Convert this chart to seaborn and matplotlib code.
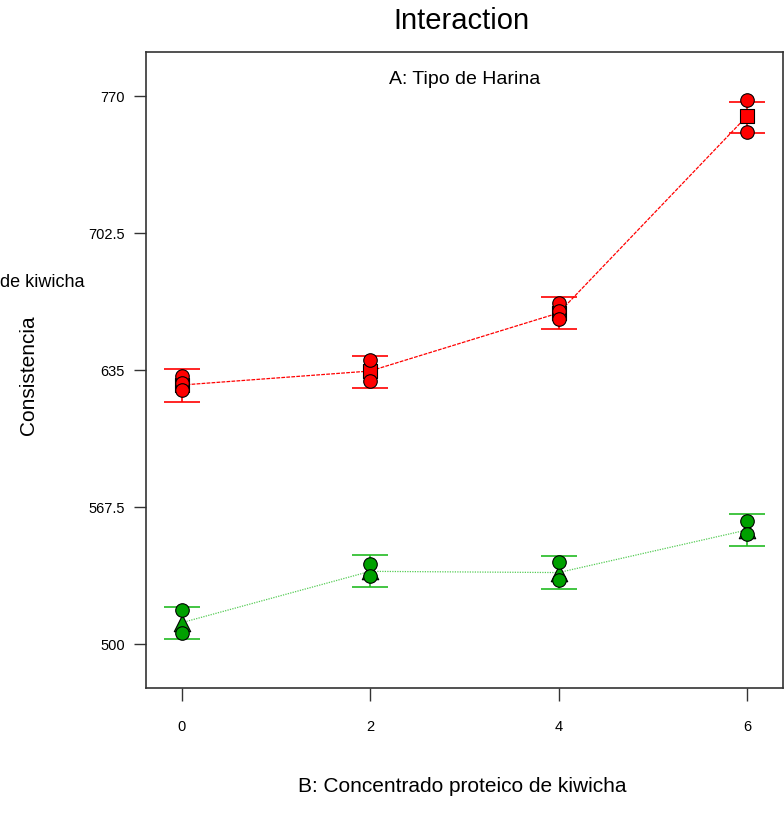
import numpy as np
import pandas as pd
import matplotlib
matplotlib.use("Agg")
import matplotlib.pyplot as plt
import seaborn as sb

# B levels and observed points for each A level
b_levels = [0, 2, 4, 6]
red_obs_x = [0, 0, 0, 2, 2, 4, 4, 4, 6, 6]
red_obs_y = [632.0, 628.5, 625.0, 640.0, 629.6, 668.0, 664.0, 660.1, 768.0, 752.3]
red_mean = [627.6, 634.5, 663.1, 760.1]
red_lo = [619.3, 626.2, 655.2, 751.8]
red_hi = [635.5, 641.9, 671.0, 767.0]

green_obs_x = [0, 0, 2, 2, 4, 4, 6, 6]
green_obs_y = [516.7, 505.4, 539.5, 533.5, 540.4, 531.5, 560.6, 554.2]
green_mean = [510.5, 535.8, 535.2, 556.2]
green_lo = [502.5, 528.0, 527.0, 548.5]
green_hi = [518.2, 544.0, 543.5, 564.0]

red = "#ff0000"
green = "#00a000"

sb.set_style("white")
plt.rcParams['font.family'] = ['Liberation Sans', 'DejaVu Sans']
plt.rcParams['text.color'] = 'black'
plt.rcParams['xtick.color'] = 'black'
plt.rcParams['ytick.color'] = 'black'

fig = plt.figure(figsize=(7.84, 8.25), dpi=100)
ax = fig.add_axes([0.186, 0.166, 0.8125, 0.771])

mean_df = pd.DataFrame({'B': b_levels * 2,
                        'y': red_mean + green_mean,
                        'A': ['a1'] * 4 + ['a2'] * 4})
sb.lineplot(data=mean_df[mean_df.A == 'a1'], x='B', y='y', color=red, lw=0.9,
            linestyle=(0, (3, 1)), ax=ax)
sb.lineplot(data=mean_df[mean_df.A == 'a2'], x='B', y='y', color="#55cc55", lw=0.9,
            linestyle=(0, (1, 1)), ax=ax)

# LSD bars
for m, lo, hi, c in [(red_mean, red_lo, red_hi, red), (green_mean, green_lo, green_hi, "#22bb22")]:
    m = np.array(m)
    ax.errorbar(b_levels, m, yerr=[m - np.array(lo), np.array(hi) - m], fmt='none',
                ecolor=c, elinewidth=1.2, capsize=13, capthick=1.2, zorder=2)

# mean markers
sb.scatterplot(x=b_levels, y=red_mean, marker='s', s=90, color=red, edgecolor='black',
               linewidth=0.8, ax=ax, zorder=3)
sb.scatterplot(x=b_levels, y=green_mean, marker='^', s=140, color=green, edgecolor='black',
               linewidth=0.8, ax=ax, zorder=3)

# observed points
sb.scatterplot(x=red_obs_x, y=red_obs_y, marker='o', s=95, color=red, edgecolor='black',
               linewidth=0.8, ax=ax, zorder=4)
sb.scatterplot(x=green_obs_x, y=green_obs_y, marker='o', s=95, color=green, edgecolor='black',
               linewidth=0.8, ax=ax, zorder=4)

ax.set_xlim(-0.38, 6.38)
ax.set_ylim(478.3, 791.7)
ax.set_xticks(b_levels)
ax.set_xticklabels(['0', '2', '4', '6'])
ax.set_yticks([500, 567.5, 635, 702.5, 770])
ax.set_yticklabels(['500', '567.5', '635', '702.5', '770'])
ax.tick_params(axis='both', direction='out', length=9, width=1, color='#333333',
               labelsize=10.5, pad=6, left=True, bottom=True)
ax.tick_params(axis='x', pad=14)
for s in ax.spines.values():
    s.set_color('#333333')
    s.set_linewidth(1.2)
ax.set_xlabel('')
ax.set_ylabel('')

ax.text(0.5, 0.97, 'A: Tipo de Harina', transform=ax.transAxes, ha='center', va='top',
        fontsize=14)
fig.text(0.589, 0.974, 'Interaction', ha='center', va='center', fontsize=21)
fig.text(0.589, 0.047, 'B: Concentrado proteico de kiwicha', ha='center', va='center',
         fontsize=15)
fig.text(0.036, 0.545, 'Consistencia', rotation=90, ha='center', va='center', fontsize=15)
fig.text(0.0, 0.658, 'de kiwicha', ha='left', va='center', fontsize=13)

fig.savefig('out.png', dpi=100)
